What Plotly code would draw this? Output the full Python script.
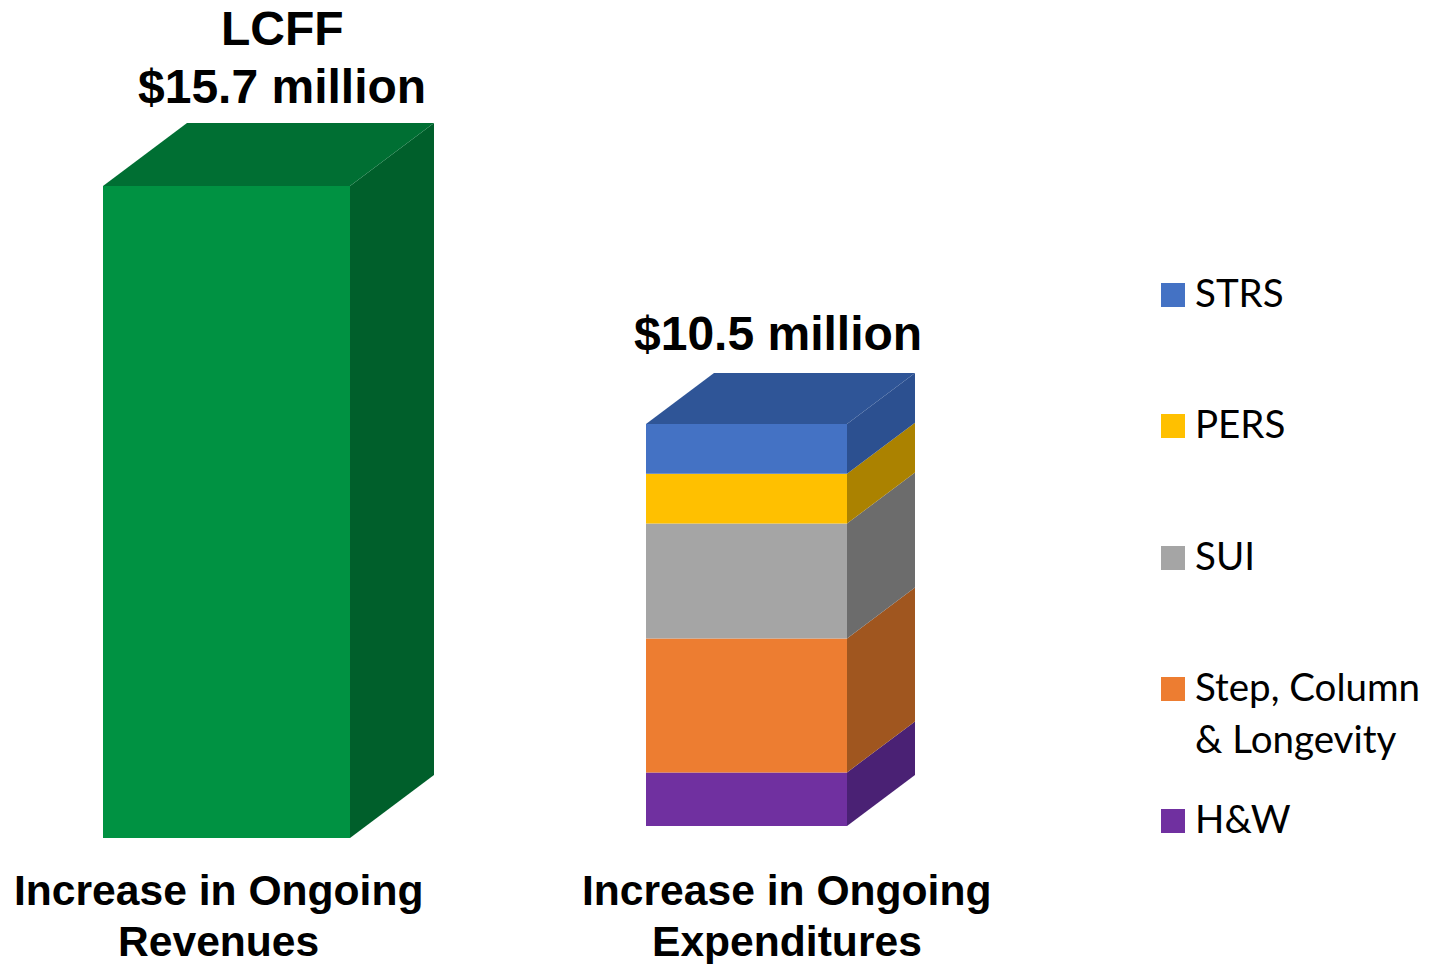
import plotly.graph_objects as go

# Values in $ millions
revenue_name = "LCFF"
revenue_total = 15.7
expense_items = ["H&W", "Step, Column & Longevity", "SUI", "PERS", "STRS"]
expense_values = [1.4, 3.5, 3.0, 1.3, 1.3]
expense_total = 10.5
group_labels = [["Increase in Ongoing", "Revenues"], ["Increase in Ongoing", "Expenditures"]]
legend_order = [["STRS"], ["PERS"], ["SUI"], ["Step, Column", "& Longevity"], ["H&W"]]

WIDTH, HEIGHT = 1437, 964

# Colours per block: front, side, top
GREEN = ("#009242", "#005F2B", "#006F33")
EXPENSE_COLORS = {
    "H&W": ("#7030A0", "#4A2174", None),
    "Step, Column & Longevity": ("#ED7D31", "#A0561F", None),
    "SUI": ("#A5A5A5", "#6C6C6C", None),
    "PERS": ("#FFC000", "#AB8200", None),
    "STRS": ("#4472C4", "#2C5090", "#2F5597"),
}
LEGEND_COLORS = ["#4472C4", "#FFC000", "#A5A5A5", "#ED7D31", "#7030A0"]

# Bar placement in pixel-aligned x units and the pixel baseline / scale of each y axis
REV_X0, REV_X1, REV_DX, REV_DY = 103, 350, 84, 63
EXP_X0, EXP_X1, EXP_DX, EXP_DY = 646, 847, 68, 51
REV_BASE_PX, REV_TOP_PX = 838, 186
EXP_BASE_PX, EXP_TOP_PX = 826, 424
rev_scale = (REV_BASE_PX - REV_TOP_PX) / revenue_total
exp_scale = (EXP_BASE_PX - EXP_TOP_PX) / expense_total

fig = go.Figure()


def polygon(xs, ys, color, yaxis):
    fig.add_trace(go.Scatter(
        x=xs + xs[:1], y=ys + ys[:1], mode="lines", fill="toself", fillcolor=color,
        line=dict(width=0, color=color), hoverinfo="skip", showlegend=False, yaxis=yaxis,
    ))


def block(x0, x1, y0, y1, dx, dy, colors, yaxis, with_top):
    """Front bar plus the receding side (and optional top) of one stacked block."""
    front, side, top = colors
    fig.add_trace(go.Bar(
        x=[(x0 + x1) / 2], y=[y1 - y0], base=[y0], width=[x1 - x0],
        marker=dict(color=front, line=dict(width=0)), showlegend=False, yaxis=yaxis,
    ))
    polygon([x1, x1 + dx, x1 + dx, x1], [y0, y0 + dy, y1 + dy, y1], side, yaxis)
    if with_top:
        polygon([x0, x0 + dx, x1 + dx, x1], [y1, y1 + dy, y1 + dy, y1], top, yaxis)


block(REV_X0, REV_X1, 0, revenue_total, REV_DX, REV_DY / rev_scale, GREEN, "y", True)

running = 0.0
for name, value in zip(expense_items, expense_values):
    block(EXP_X0, EXP_X1, running, running + value, EXP_DX, EXP_DY / exp_scale,
          EXPENSE_COLORS[name], "y2", name == expense_items[-1])
    running += value


def py(pixel):
    return 1 - pixel / HEIGHT


annotations = []


def label(text, x, y, font, xanchor="center", xref="x", yref="paper", yshift=0):
    annotations.append(dict(
        text=text, x=x, y=y, xref=xref, yref=yref, xanchor=xanchor, yanchor="middle",
        yshift=yshift, showarrow=False, font=font, borderpad=0,
    ))


BOLD = "Liberation Sans"
value_font = dict(family=BOLD, size=48, color="#000000", weight="bold")
axis_font = dict(family=BOLD, size=42.6, color="#000000", weight="bold")
legend_font = dict(family="Lato", size=38.5, color="#000000")

# Headline values above each column
label(revenue_name, 282.5, revenue_total, value_font, yref="y", yshift=158)
label(f"${revenue_total} million", 282, revenue_total, value_font, yref="y", yshift=100)
label(f"${expense_total} million", 778, expense_total, value_font, yref="y2", yshift=91)

# Group captions under the columns
for center, lines in zip([218.5, 786.5], group_labels):
    label(lines[0], center, py(890), axis_font)
    label(lines[1], center, py(941), axis_font)

# Hand-placed key on the right
shapes = []
swatch_tops = [283, 414, 546, 677, 809]
for top, lines, color in zip(swatch_tops, legend_order, LEGEND_COLORS):
    shapes.append(dict(type="rect", xref="x", yref="paper", x0=1161, x1=1185,
                       y0=py(top + 24), y1=py(top), fillcolor=color, line=dict(width=0)))
    for i, line in enumerate(lines):
        label(line, 1194, py(top + 8.5 + 52 * i), legend_font, xanchor="left")

hidden = dict(visible=False, showgrid=False, zeroline=False, fixedrange=True)
fig.update_layout(
    width=WIDTH, height=HEIGHT, margin=dict(l=0, r=0, t=0, b=0),
    paper_bgcolor="#FFFFFF", plot_bgcolor="#FFFFFF", showlegend=False,
    barmode="overlay",
    xaxis=dict(range=[0, WIDTH], **hidden),
    yaxis=dict(range=[-(HEIGHT - REV_BASE_PX) / rev_scale, REV_BASE_PX / rev_scale], **hidden),
    yaxis2=dict(range=[-(HEIGHT - EXP_BASE_PX) / exp_scale, EXP_BASE_PX / exp_scale],
                overlaying="y", **hidden),
    annotations=annotations, shapes=shapes,
)

fig.write_html("out.html", config=dict(displayModeBar=False))
